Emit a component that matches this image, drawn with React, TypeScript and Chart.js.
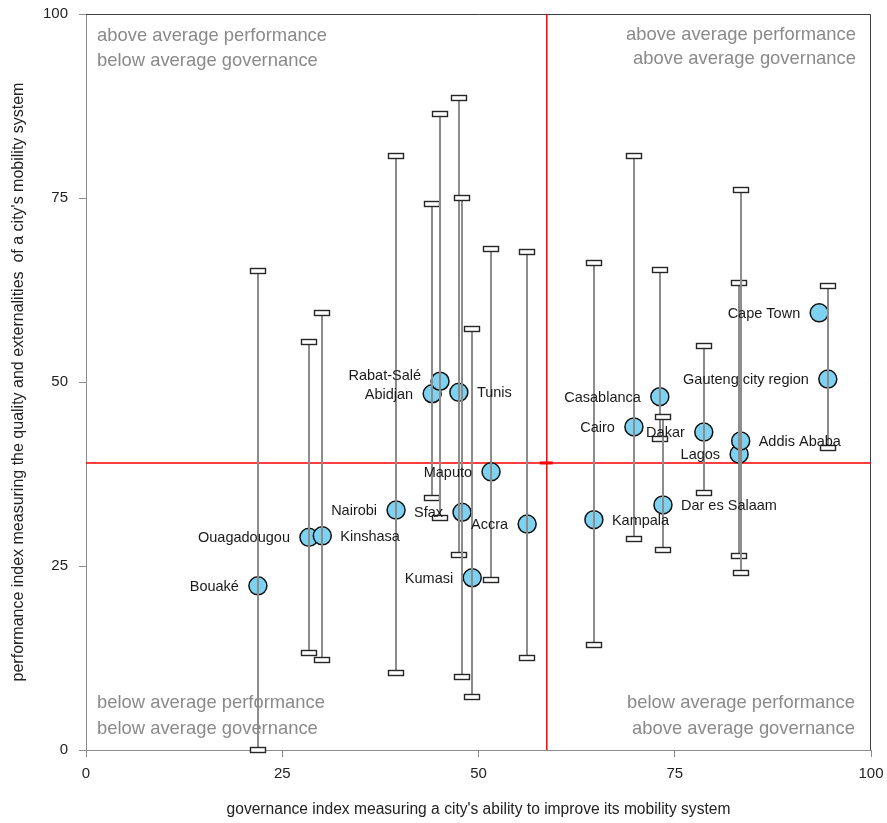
import React, { useEffect, useRef } from "react";
import { Chart, registerables } from "chart.js";

Chart.register(...registerables);

const cities = [
  "Bouaké", "Ouagadougou", "Kinshasa", "Nairobi", "Abidjan", "Rabat-Salé", "Tunis", "Sfax",
  "Maputo", "Accra", "Kumasi", "Kampala", "Cairo", "Casablanca", "Dar es Salaam", "Dakar",
  "Lagos", "Addis Ababa", "Cape Town", "Gauteng city region",
];
const governance = [21.9, 28.4, 30.1, 39.5, 44.1, 45.1, 47.5, 47.9, 51.6, 56.2, 49.2, 64.7, 69.8, 73.1, 73.5, 78.7, 83.2, 83.4, 93.4, 94.5];
const performance = [22.3, 28.9, 29.1, 32.6, 48.4, 50.1, 48.6, 32.3, 37.8, 30.7, 23.4, 31.3, 43.9, 48.0, 33.3, 43.2, 40.2, 42.0, 59.4, 50.4];
const rangeHigh: (number | null)[] = [65.1, 55.4, 59.4, 80.7, 74.2, 86.4, 88.6, 75.0, 68.1, 67.7, 57.2, 66.2, 80.7, 65.2, 45.2, 54.9, 63.5, 76.1, null, 63.0];
const rangeLow: (number | null)[] = [0.0, 13.2, 12.2, 10.5, 34.2, 31.5, 26.5, 9.9, 23.1, 12.5, 7.2, 14.3, 28.7, 42.3, 27.2, 34.9, 26.4, 24.0, null, 41.0];
const averageGovernance = 58.7;
const averagePerformance = 39.0;
const xTicks = [0, 25, 50, 75, 100];
const yTicks = [0, 25, 50, 75, 100];

// label placement (style): cities whose label sits to the right of the marker
const labelsOnRight = new Set(["Kinshasa", "Tunis", "Kampala", "Addis Ababa", "Dar es Salaam"]);

const FONT = "'Liberation Sans', Arial, sans-serif";

const overlayPlugin = {
  id: "overlay",
  beforeDatasetsDraw(chart: any) {
    const { ctx, chartArea, scales } = chart;
    const x = scales.x, y = scales.y;
    ctx.save();
    // frame
    ctx.strokeStyle = "#404040";
    ctx.lineWidth = 1;
    ctx.beginPath();
    ctx.moveTo(chartArea.left, chartArea.top + 0.5);
    ctx.lineTo(chartArea.right - 0.5, chartArea.top + 0.5);
    ctx.lineTo(chartArea.right - 0.5, chartArea.bottom);
    ctx.stroke();
    // quadrant notes
    ctx.fillStyle = "#8a8a8a";
    ctx.font = `18.4px ${FONT}`;
    ctx.textBaseline = "middle";
    ctx.textAlign = "left";
    ctx.fillText("above average performance", chartArea.left + 11, chartArea.top + 22);
    ctx.fillText("below average governance", chartArea.left + 11, chartArea.top + 47);
    ctx.fillText("below average performance", chartArea.left + 11, chartArea.bottom - 47);
    ctx.fillText("below average governance", chartArea.left + 11, chartArea.bottom - 21);
    ctx.textAlign = "right";
    ctx.fillText("above average performance", chartArea.right - 15, chartArea.top + 21);
    ctx.fillText("above average governance", chartArea.right - 15, chartArea.top + 45);
    ctx.fillText("below average performance", chartArea.right - 16, chartArea.bottom - 47);
    ctx.fillText("above average governance", chartArea.right - 16, chartArea.bottom - 21);
    // average lines
    const ax = x.getPixelForValue(averageGovernance);
    const ay = y.getPixelForValue(averagePerformance);
    ctx.strokeStyle = "#ff0000";
    ctx.lineWidth = 1.5;
    ctx.beginPath();
    ctx.moveTo(ax, chartArea.top);
    ctx.lineTo(ax, chartArea.bottom);
    ctx.moveTo(chartArea.left, ay);
    ctx.lineTo(chartArea.right, ay);
    ctx.stroke();
    ctx.lineWidth = 3;
    ctx.beginPath();
    ctx.moveTo(ax - 7, ay);
    ctx.lineTo(ax + 6, ay);
    ctx.stroke();
    ctx.restore();
  },
  afterDatasetsDraw(chart: any) {
    const { ctx, scales } = chart;
    const x = scales.x, y = scales.y;
    ctx.save();
    // range bars
    for (let i = 0; i < cities.length; i++) {
      const hi = rangeHigh[i], lo = rangeLow[i];
      if (hi == null || lo == null) continue;
      const px = Math.round(x.getPixelForValue(governance[i]));
      const yh = y.getPixelForValue(hi);
      const yl = y.getPixelForValue(lo);
      ctx.strokeStyle = "#8c8c8c";
      ctx.lineWidth = 2;
      ctx.beginPath();
      ctx.moveTo(px, yh);
      ctx.lineTo(px, yl);
      ctx.stroke();
      for (const cy of [yh, yl]) {
        const ry = Math.round(cy);
        ctx.fillStyle = "#ffffff";
        ctx.fillRect(px - 7, ry - 2, 14, 4);
        ctx.strokeStyle = "#262626";
        ctx.lineWidth = 1.4;
        ctx.strokeRect(px - 7.5, ry - 2.5, 15, 5);
      }
    }
    // city labels
    ctx.font = `14.5px ${FONT}`;
    ctx.fillStyle = "#1a1a1a";
    ctx.textBaseline = "middle";
    for (let i = 0; i < cities.length; i++) {
      const px = x.getPixelForValue(governance[i]);
      const py = y.getPixelForValue(performance[i]);
      const right = labelsOnRight.has(cities[i]);
      ctx.textAlign = right ? "left" : "right";
      const dy = cities[i] === "Rabat-Salé" ? -5 : 1;
      ctx.fillText(cities[i], right ? px + 18 : px - 19, py + dy);
    }
    ctx.restore();
  },
};

export default function App() {
  const ref = useRef<HTMLCanvasElement | null>(null);
  useEffect(() => {
    document.body.style.margin = "0";
    const canvas = ref.current;
    if (!canvas) return;
    const chart = new Chart(canvas, {
      type: "scatter",
      data: {
        datasets: [
          {
            label: "cities",
            data: cities.map((_, i) => ({ x: governance[i], y: performance[i] })),
            pointRadius: 9,
            pointHoverRadius: 9,
            backgroundColor: "#7dd1f1",
            borderColor: "#111111",
            borderWidth: 1.5,
          },
        ],
      },
      options: {
        responsive: false,
        animation: false,
        devicePixelRatio: 1,
        layout: { padding: { top: 14, right: 16, left: 0, bottom: 0 } },
        plugins: { legend: { display: false }, tooltip: { enabled: false } },
        scales: {
          x: {
            type: "linear",
            min: 0,
            max: 100,
            afterBuildTicks: (s: any) => { s.ticks = xTicks.map((v) => ({ value: v })); },
            afterFit: (s: any) => { s.height = 73; s.paddingLeft = 0; s.paddingRight = 0; },
            ticks: { color: "#222", font: { family: FONT, size: 15 }, padding: 8 },
            grid: { drawOnChartArea: false, drawTicks: true, tickLength: 7, color: "#8c8c8c" },
            border: { color: "#8c8c8c", width: 1 },
            title: {
              display: true,
              text: "governance index measuring a city's ability to improve its mobility system",
              color: "#222",
              font: { family: FONT, size: 15.6 },
              padding: { top: 0, bottom: 4 },
            },
          },
          y: {
            type: "linear",
            min: 0,
            max: 100,
            afterBuildTicks: (s: any) => { s.ticks = yTicks.map((v) => ({ value: v })); },
            afterFit: (s: any) => { s.width = 86; s.paddingTop = 0; s.paddingBottom = 0; },
            ticks: { color: "#222", font: { family: FONT, size: 15 }, padding: 11 },
            grid: { drawOnChartArea: false, drawTicks: true, tickLength: 7, color: "#8c8c8c" },
            border: { color: "#8c8c8c", width: 1 },
            title: {
              display: true,
              text: "performance index measuring the quality and externalities  of a city's mobility system",
              color: "#222",
              font: { family: FONT, size: 16 },
              padding: { top: 9, bottom: 0 },
            },
          },
        },
      },
      plugins: [overlayPlugin],
    } as any);
    return () => chart.destroy();
  }, []);
  return <canvas ref={ref} width={887} height={823} style={{ display: "block" }} />;
}
